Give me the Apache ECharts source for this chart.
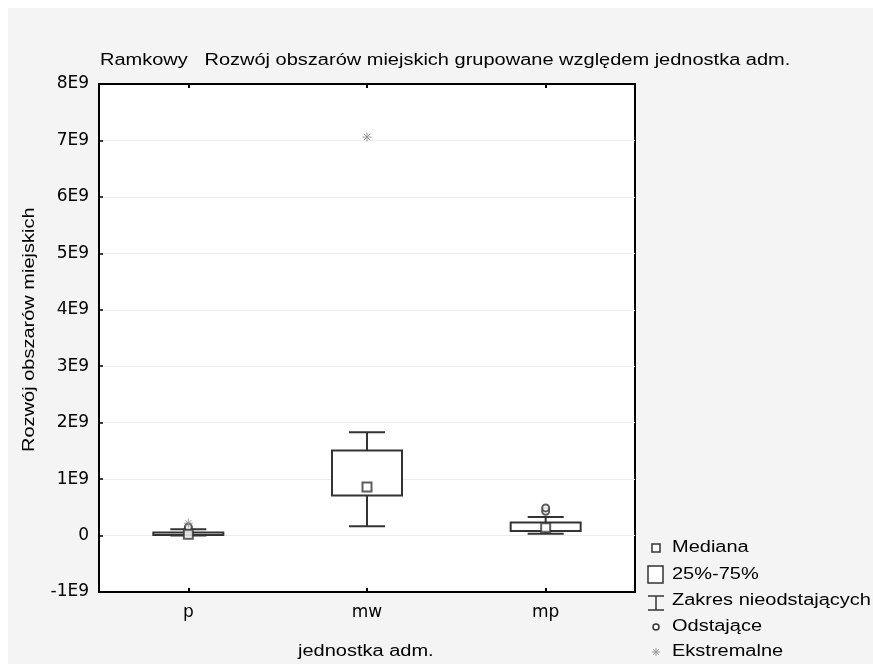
<!DOCTYPE html>
<html><head><meta charset="utf-8">
<script src="https://cdn.jsdelivr.net/npm/echarts@6/dist/echarts.min.js"></script>
<style>html,body{margin:0;padding:0;background:#fff}#c{width:873px;height:664px}</style>
</head><body><div id="c"></div>
<script>
// ---- data ----
const categories = ['p', 'mw', 'mp'];
const whiskerLow  = [0.00e9, 0.165e9, 0.03e9];
const quartile1   = [0.01e9, 0.71e9, 0.08e9];
const medians     = [0.025e9, 0.86e9, 0.14e9];
const quartile3   = [0.055e9, 1.505e9, 0.23e9];
const whiskerHigh = [0.11e9, 1.83e9, 0.33e9];
const outlierCat  = ['p', 'p', 'mp', 'mp'];
const outlierVal  = [0.12e9, 0.15e9, 0.43e9, 0.49e9];
const extremeCat  = ['p', 'mw'];
const extremeVal  = [0.22e9, 7.06e9];
const yTicks = [-1e9, 0, 1e9, 2e9, 3e9, 4e9, 5e9, 6e9, 7e9, 8e9];

const FONT = 'Liberation Sans';
const boxData = categories.map((c, i) => [i, whiskerLow[i], quartile1[i], quartile3[i], whiskerHigh[i]]);
const medData = categories.map((c, i) => [i, medians[i]]);
const outData = outlierCat.map((c, i) => [categories.indexOf(c), outlierVal[i]]);
const extData = extremeCat.map((c, i) => [categories.indexOf(c), extremeVal[i]]);
const STAR = 'path://M5 0L5 10M0 5L10 5M1.5 1.5L8.5 8.5M8.5 1.5L1.5 8.5';

const chart = echarts.init(document.getElementById('c'));
const txt = (t, x, y, extra) => Object.assign({
  type: 'text', x: x, y: y, scaleX: 1.25,
  style: { text: t, font: '16px "' + FONT + '"', fill: '#000', textVerticalAlign: 'middle', verticalAlign: 'middle' }
}, extra || {});

chart.setOption({
  animation: false,
  backgroundColor: '#fff',
  grid: { left: 99, right: 238, top: 84, bottom: 72, show: true, backgroundColor: '#fff', borderColor: '#000', borderWidth: 2 },
  xAxis: [{
    type: 'category', data: categories, position: 'bottom',
    axisLine: { show: true, onZero: false, lineStyle: { color: '#000', width: 2 } },
    axisTick: { show: true, inside: true, alignWithLabel: true, length: 4, lineStyle: { color: '#000', width: 2 } },
    axisLabel: { color: '#000', fontFamily: 'DejaVu Sans', fontSize: 17, margin: 12 },
    splitLine: { show: false }
  }, {
    type: 'category', data: categories, position: 'top',
    axisLine: { show: true, onZero: false, lineStyle: { color: '#000', width: 2 } },
    axisTick: { show: true, inside: true, alignWithLabel: true, length: 4, lineStyle: { color: '#000', width: 2 } },
    axisLabel: { show: false }
  }],
  yAxis: {
    type: 'value', min: -1e9, max: 8e9, interval: 1e9,
    axisLine: { show: true, onZero: false, lineStyle: { color: '#000', width: 2 } },
    axisTick: { show: true, inside: true, length: 4, lineStyle: { color: '#000', width: 1.5 } },
    axisLabel: { color: '#000', fontFamily: 'DejaVu Sans', fontSize: 17, margin: 10,
      formatter: v => v === 0 ? '0' : (Math.round(v / 1e9) + 'E9') },
    splitLine: { show: true, lineStyle: { color: '#ececec', width: 1 } }
  },
  series: [{
    type: 'custom', data: boxData, z: 2,
    renderItem: function (params, api) {
      const x = api.value(0);
      const lo = api.coord([x, api.value(1)]);
      const q1 = api.coord([x, api.value(2)]);
      const q3 = api.coord([x, api.value(3)]);
      const hi = api.coord([x, api.value(4)]);
      const cx = lo[0], bw = 70, cw = 36;
      const st = { stroke: '#333', lineWidth: 2, fill: null };
      return { type: 'group', children: [
        { type: 'line', shape: { x1: cx, y1: hi[1], x2: cx, y2: q3[1] }, style: st },
        { type: 'line', shape: { x1: cx, y1: q1[1], x2: cx, y2: lo[1] }, style: st },
        { type: 'line', shape: { x1: cx - cw / 2, y1: hi[1], x2: cx + cw / 2, y2: hi[1] }, style: st },
        { type: 'line', shape: { x1: cx - cw / 2, y1: lo[1], x2: cx + cw / 2, y2: lo[1] }, style: st },
        { type: 'rect', shape: { x: cx - bw / 2, y: q3[1], width: bw, height: q1[1] - q3[1] }, style: { stroke: '#333', lineWidth: 2, fill: '#fff' } }
      ]};
    }
  }, {
    type: 'scatter', data: outData, symbol: 'circle', symbolSize: 7, z: 3,
    itemStyle: { color: '#fff', borderColor: '#333', borderWidth: 2 }
  }, {
    type: 'scatter', data: extData, symbol: STAR, symbolSize: 9, z: 3,
    itemStyle: { color: 'none', borderColor: '#888', borderWidth: 1 }
  }, {
    type: 'scatter', data: medData, symbol: 'rect', symbolSize: 9, z: 4,
    itemStyle: { color: '#fff', borderColor: '#333', borderWidth: 2 }
  }],
  graphic: [
    { type: 'rect', z: -10, shape: { x: 8, y: 8, width: 873, height: 664 }, style: { fill: '#f4f4f4' } },
    txt('Ramkowy   Rozwój obszarów miejskich grupowane względem jednostka adm.', 100, 61),
    txt('jednostka adm.', 298, 652),
    txt('Rozwój obszarów miejskich', 30, 452, { rotation: Math.PI / 2, scaleX: 1.25 }),
    // legend
    { type: 'rect', shape: { x: 652, y: 544, width: 8, height: 8 }, style: { fill: '#fff', stroke: '#333', lineWidth: 1.5 } },
    txt('Mediana', 672, 548),
    { type: 'rect', shape: { x: 648, y: 566, width: 15, height: 17 }, style: { fill: '#fff', stroke: '#333', lineWidth: 1.5 } },
    txt('25%-75%', 672, 575),
    { type: 'polyline', shape: { points: [[648, 596], [664, 596]] }, style: { stroke: '#333', lineWidth: 1.5 } },
    { type: 'polyline', shape: { points: [[648, 610], [664, 610]] }, style: { stroke: '#333', lineWidth: 1.5 } },
    { type: 'polyline', shape: { points: [[656, 596], [656, 610]] }, style: { stroke: '#333', lineWidth: 1.5 } },
    txt('Zakres nieodstających', 672, 601),
    { type: 'circle', shape: { cx: 656, cy: 627, r: 3 }, style: { fill: '#fff', stroke: '#333', lineWidth: 1.5 } },
    txt('Odstające', 672, 627),
    { type: 'polyline', shape: { points: [[652, 652], [660, 652]] }, style: { stroke: '#999', lineWidth: 1 } },
    { type: 'polyline', shape: { points: [[656, 648], [656, 656]] }, style: { stroke: '#999', lineWidth: 1 } },
    { type: 'polyline', shape: { points: [[653, 649], [659, 655]] }, style: { stroke: '#999', lineWidth: 1 } },
    { type: 'polyline', shape: { points: [[659, 649], [653, 655]] }, style: { stroke: '#999', lineWidth: 1 } },
    txt('Ekstremalne', 672, 652)
  ]
});
</script></body></html>
